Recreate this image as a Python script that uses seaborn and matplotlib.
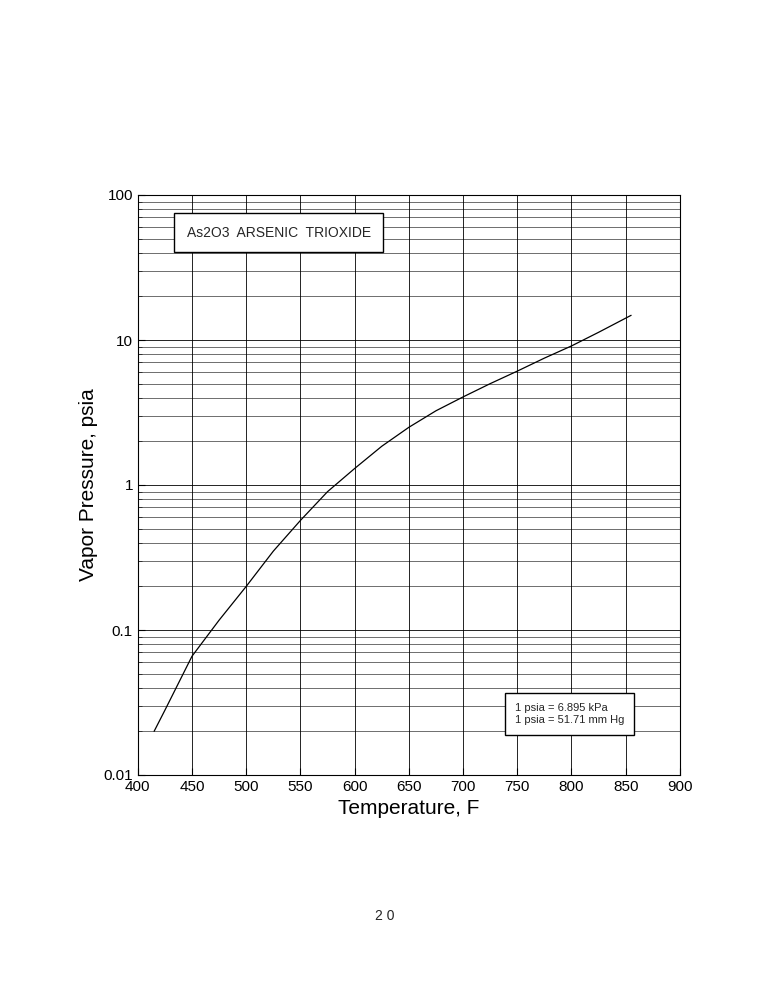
import matplotlib.pyplot as plt
import numpy as np
import seaborn as sns

# 読み取ったデータ
temperature = [415, 425, 450, 475, 500, 525, 550, 575, 600, 625, 650, 675, 700, 725, 750, 775, 800, 825, 855]
pressure = [0.02, 0.028, 0.066, 0.117, 0.20, 0.35, 0.57, 0.90, 1.3, 1.85, 2.5, 3.25, 4.05, 5.0, 6.1, 7.5, 9.1, 11.3, 14.8]

sns.set_style("white")
plt.rcParams['font.family'] = ['Liberation Sans', 'DejaVu Sans']

fig = plt.figure(figsize=(7.7, 10), dpi=100)
ax = fig.add_axes([0.179, 0.225, 0.704, 0.58])

# 曲線
sns.lineplot(x=temperature, y=pressure, color="black", linewidth=0.9, ax=ax)

ax.set_yscale("log")
ax.set_xlim(400, 900)
ax.set_ylim(0.01, 100)
ax.set_xticks(np.arange(400, 901, 50))
ax.set_yticks([0.01, 0.1, 1, 10, 100])
ax.set_yticklabels(["0.01", "0.1", "1", "10", "100"])
ax.tick_params(axis="both", labelsize=11, direction="in", length=5, left=True, bottom=True,
               colors="black")
ax.tick_params(axis="y", which="minor", direction="in", length=3, left=True)
ax.grid(True, which="major", color="black", linewidth=0.6)
ax.grid(True, which="minor", axis="y", color="black", linewidth=0.4)
for s in ax.spines.values():
    s.set_color("black")
    s.set_linewidth(0.8)

ax.set_xlabel("Temperature, F", fontsize=15, color="black")
ax.set_ylabel("Vapor Pressure, psia", fontsize=15, color="black")

# ラベルボックス
ax.text(0.09, 0.935, "As2O3  ARSENIC  TRIOXIDE", transform=ax.transAxes, fontsize=10,
        va="center", bbox=dict(boxstyle="square,pad=0.9", fc="white", ec="black"))
ax.text(0.695, 0.105, "1 psia = 6.895 kPa\n1 psia = 51.71 mm Hg", transform=ax.transAxes,
        fontsize=8, va="center", bbox=dict(boxstyle="square,pad=0.9", fc="white", ec="black"))

fig.text(0.5, 0.08, "2 0", ha="center", fontsize=10)

plt.savefig("out.png", dpi=100)
